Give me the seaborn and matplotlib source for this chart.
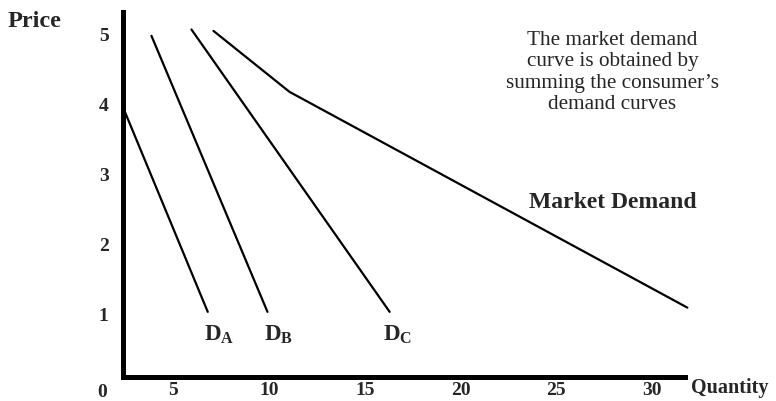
import numpy as np
import pandas as pd
import matplotlib
matplotlib.use('Agg')
import matplotlib.pyplot as plt
import seaborn as sns

# curves (quantity, price)
qty_a = [2.45, 6.8]
price_a = [3.9, 1.03]
qty_b = [3.86, 9.92]
price_b = [4.97, 1.03]
qty_c = [5.95, 16.3]
price_c = [5.06, 1.03]
qty_mkt = [7.1, 11.07, 31.85]
price_mkt = [5.04, 4.17, 1.09]

x_ticks = [5, 10, 15, 20, 25, 30]
y_ticks = [1, 2, 3, 4, 5]

sns.set_style('white')
plt.rcParams['font.family'] = ['Liberation Serif', 'DejaVu Serif']
plt.rcParams['mathtext.fontset'] = 'custom'
plt.rcParams['mathtext.rm'] = 'Liberation Serif'
plt.rcParams['mathtext.bf'] = 'Liberation Serif:bold'

frames = []
for name, q, p in [('DA', qty_a, price_a), ('DB', qty_b, price_b),
                   ('DC', qty_c, price_c), ('Market', qty_mkt, price_mkt)]:
    frames.append(pd.DataFrame({'curve': name, 'Quantity': q, 'Price': p}))
df = pd.concat(frames, ignore_index=True)

fig = plt.figure(figsize=(7.76, 4.02), dpi=100)
ax = fig.add_axes([0.1579, 0.0585, 0.7242, 0.9092])

for name, sub in df.groupby('curve', sort=False):
    sns.lineplot(data=sub, x='Quantity', y='Price', color='black', lw=1.6,
                 sort=False, estimator=None, ax=ax, legend=False)
for line in ax.get_lines():
    line.set_clip_on(False)

ax.set_xlim(2.35, 31.7)
ax.set_ylim(0.093, 5.31)
ax.set_xlabel('')
ax.set_ylabel('')

for s in ['top', 'right']:
    ax.spines[s].set_visible(False)
for s in ['left', 'bottom']:
    ax.spines[s].set_linewidth(3.6)
    ax.spines[s].set_color('black')
    ax.spines[s].set_capstyle('projecting')

ax.set_xticks(x_ticks)
ax.set_xticklabels([str(t) for t in x_ticks], fontsize=14, fontweight='bold')
ax.set_yticks(y_ticks)
ax.set_yticklabels([str(t) for t in y_ticks], fontsize=14, fontweight='bold')
ax.tick_params(axis='both', length=0)
ax.tick_params(axis='x', pad=2.5)
ax.tick_params(axis='y', pad=10)

ax.text(1.3, -0.1, '0', fontsize=14, fontweight='bold', ha='center', va='center',
        clip_on=False)
ax.text(-3.66, 5.19, 'Price', fontsize=17.5, fontweight='bold', ha='left', va='center',
        clip_on=False)
ax.text(32.06, -0.04, 'Quantity', fontsize=14.5, fontweight='bold', ha='left', va='center',
        clip_on=False)

for lab, q in [('A', 7.37), ('B', 10.47), ('C', 16.72)]:
    ax.text(q, 0.71, r'$\mathbf{D_{%s}}$' % lab, fontsize=16.5, ha='center', va='center')

ax.text(27.94, 2.61, 'Market Demand', fontsize=17, fontweight='bold', ha='center', va='center')
ax.text(27.94, 4.46, 'The market demand\ncurve is obtained by\nsumming the consumer\u2019s\ndemand curves',
        fontsize=15.3, ha='center', va='center', linespacing=1.17)

fig.savefig('out.png', dpi=100)
